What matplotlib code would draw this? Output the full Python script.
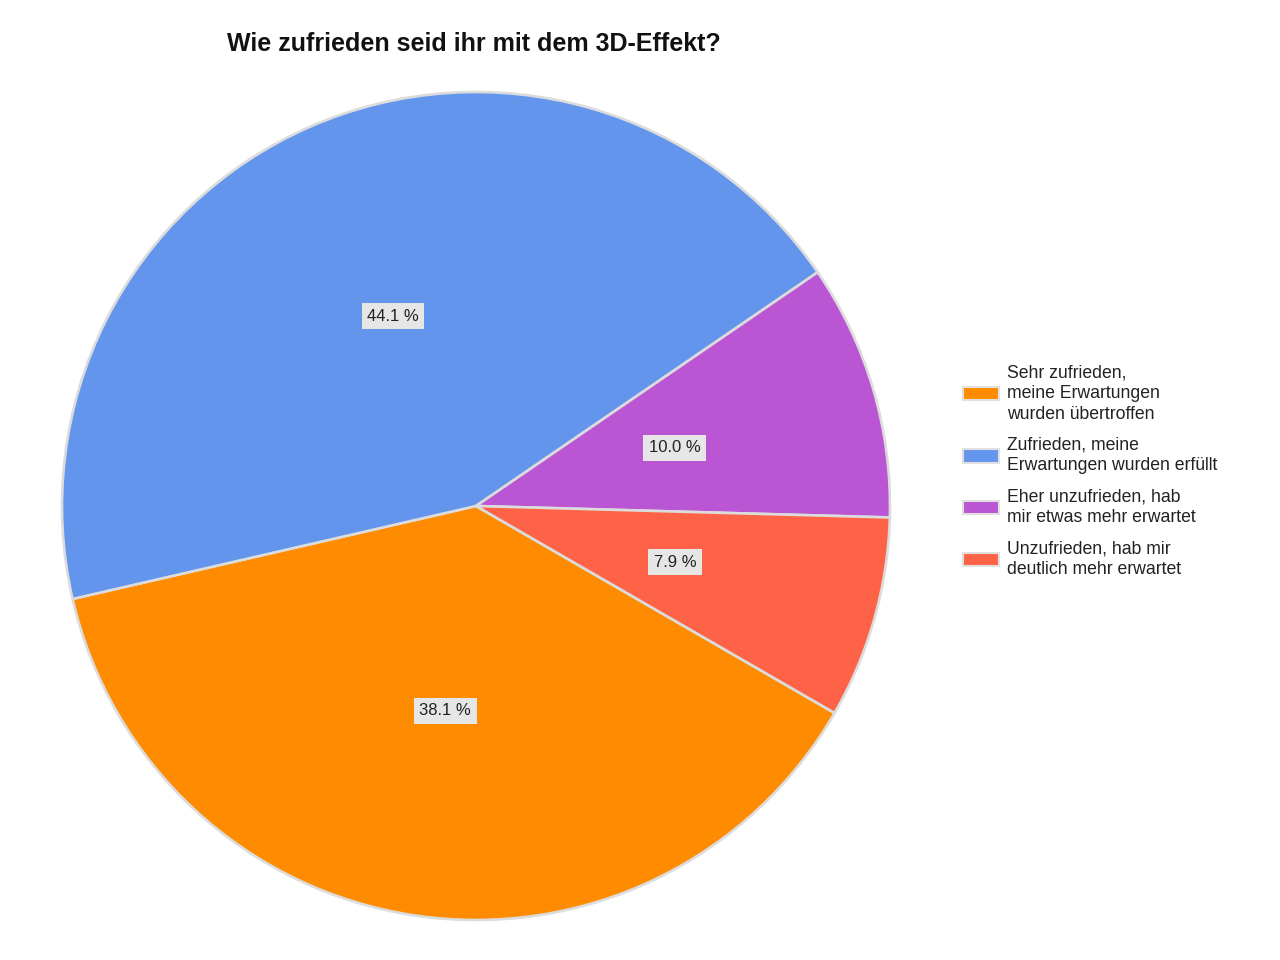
import matplotlib
matplotlib.use("Agg")
import matplotlib.pyplot as plt

plt.rcParams['font.family'] = ['Liberation Sans', 'DejaVu Sans']

title = "Wie zufrieden seid ihr mit dem 3D-Effekt?"
categories = [
    "Sehr zufrieden,\nmeine Erwartungen\nwurden übertroffen",
    "Zufrieden, meine\nErwartungen wurden erfüllt",
    "Eher unzufrieden, hab\nmir etwas mehr erwartet",
    "Unzufrieden, hab mir\ndeutlich mehr erwartet",
]
values = [38.1, 44.1, 10.0, 7.9]
colors = ["#FF8C00", "#6495ED", "#BA55D3", "#FF6347"]

fig = plt.figure(figsize=(12.8, 9.6), dpi=100)
fig.patch.set_facecolor("white")

ax = fig.add_axes([62/1280, 40/960, 828/1280, 828/960])
wedges, texts, autotexts = ax.pie(
    values, colors=colors, startangle=-30, counterclock=False,
    autopct=lambda p: f"{p:.1f} %", pctdistance=0.5, radius=1,
    wedgeprops=dict(edgecolor="#DCDCDC", linewidth=1.9),
    textprops=dict(fontsize=12, color="#222222"),
)
for t, v in zip(autotexts, values):
    t.set_text(f"{v:.1f} %")
    t.set_bbox(dict(facecolor="#E6E6E6", edgecolor="none", pad=4))
ax.set_xlim(-1.0, 1.0)
ax.set_ylim(-1.0, 1.0)
ax.set_aspect('equal')

fig.text(474/1280, 1 - 44/960, title, ha="center", va="center",
         fontsize=18, fontweight="bold", color="#111111")

leg = fig.legend(wedges, categories, loc="center left",
                 bbox_to_anchor=(963/1280, 1 - 471/960),
                 frameon=False, fontsize=12.7, handlelength=2.05,
                 handleheight=0.8, handletextpad=0.42, labelspacing=0.8,
                 borderaxespad=0, borderpad=0)
for txt in leg.get_texts():
    txt.set_color("#222222")
    txt.set_linespacing(1.28)
for h in leg.legend_handles:
    h.set_edgecolor("#E0E0E0")
    h.set_linewidth(1.5)

fig.savefig("out.png", dpi=100, facecolor="white")
